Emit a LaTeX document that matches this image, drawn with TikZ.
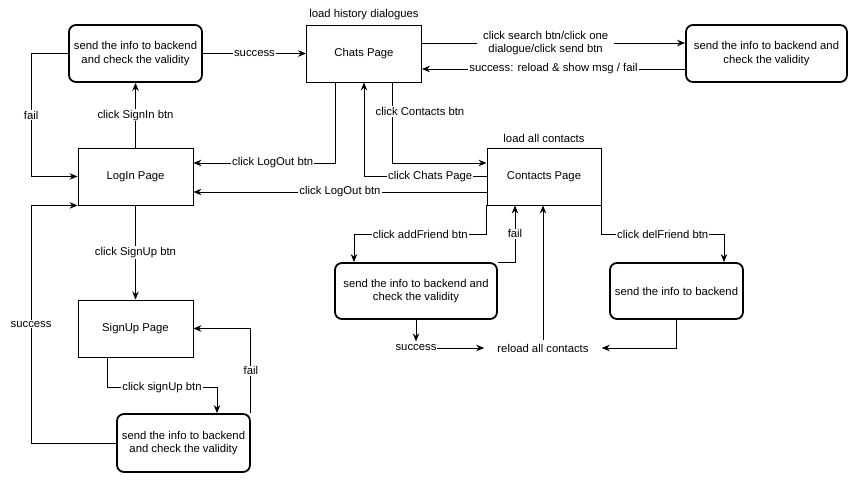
\documentclass[tikz,border=0pt]{standalone}
\usepackage{fontspec}
\setmainfont{Liberation Sans}
\usetikzlibrary{arrows.meta,positioning}

\begin{document}
\begin{tikzpicture}[x=1pt, y=-1pt, >={Stealth[length=8pt,width=6.5pt]}, font=\fontsize{11.3}{13.4}\selectfont,
  page/.style={draw, line width=0.9pt, minimum width=115pt, minimum height=57pt, inner sep=0pt},
  check/.style={draw, line width=1.8pt, rounded corners=7pt, minimum height=57pt, align=center, inner sep=0pt},
  flow/.style={->, line width=0.9pt},
  lbl/.style={fill=white, inner sep=1pt}]
\useasboundingbox (0,0) rectangle (863,481);
\node[check, minimum width=133pt] (signin) at (135.5,53.5) {send the info to backend\\and check the validity};
\node[page] (chats) at (364,53.5) {Chats Page};
\node[check, minimum width=161pt] (msgcheck) at (766.5,53.5) {send the info to backend and\\check the validity};
\node[page] (login) at (135.5,176.5) {LogIn Page};
\node[page, minimum width=114pt] (contacts) at (544,176.5) {Contacts Page};
\node[page] (signup) at (135.5,328.5) {SignUp Page};
\node[check, minimum width=133pt, minimum height=58pt] (signupcheck) at (183.5,443) {send the info to backend\\and check the validity};
\node[check, minimum width=162pt, minimum height=56pt] (addcheck) at (416,291) {send the info to backend and\\check the validity};
\node[check, minimum width=133pt, minimum height=56pt] (delsend) at (676.5,291) {send the info to backend};
\node[inner xsep=0.5pt] (succ) at (416,348) {success};
\node[inner xsep=13pt] (reload) at (543,348) {reload all contacts};
\node[above=1pt of chats] (histnote) {load history dialogues};
\node[above=1pt of contacts] (contnote) {load all contacts};
\draw[flow] (login.north) -- node[lbl]{click SignIn btn} (signin.south);
\draw[flow] (signin.west) -- ++(-37,0) |- node[lbl,pos=0.25]{fail} (login.west);
\draw[flow] (signin.east) -- node[lbl]{success} (chats.west);
\draw[flow] ([yshift=10.5pt]chats.east) -- node[lbl,pos=0.47,align=center,inner xsep=6pt]{click search btn/click one\\dialogue/click send btn} ([yshift=10.5pt]msgcheck.west);
\draw[flow] ([yshift=-15.5pt]msgcheck.west) -- node[lbl]{success: reload \& show msg / fail} ([yshift=-15.5pt]chats.east);
\draw[flow] ([xshift=-29pt]chats.south) |- node[lbl,pos=0.72]{click LogOut btn} ([yshift=13.5pt]login.east);
\draw[flow] (contacts.west) -| node[lbl,pos=0.23]{click Chats Page} (chats.south);
\draw[flow] ([xshift=28pt]chats.south) |- node[lbl,pos=0.18,xshift=28pt]{click Contacts btn} ([yshift=13.5pt]contacts.west);
\draw[flow] ([yshift=-15.5pt]contacts.west) -- node[lbl]{click LogOut btn} ([yshift=-15.5pt]login.east);
\draw[flow] (contacts.south west) -- ++(0,29) -| node[lbl,pos=0.25]{click addFriend btn} ([xshift=-62pt]addcheck.north);
\draw[flow] (addcheck.north east) -| node[lbl,pos=0.75]{fail} ([xshift=-29pt]contacts.south);
\draw[flow] (addcheck.south) -- (succ);
\draw[flow] (succ) -- (reload);
\draw[flow] (reload) -- (reload |- contacts.south);
\draw[flow] (contacts.south east) -- ++(0,29) -| node[lbl,pos=0.25]{click delFriend btn} ([xshift=47.5pt]delsend.north);
\draw[flow] (delsend.south) |- (reload.east);
\draw[flow] (login.south) -- node[lbl]{click SignUp btn} (signup.north);
\draw[flow] ([xshift=-28.5pt]signup.south) -- ++(0,30) -| node[lbl,pos=0.25]{click signUp btn} ([xshift=33.5pt]signupcheck.north);
\draw[flow] (signupcheck.north east) |- node[lbl,pos=0.25]{fail} (signup.east);
\draw[flow] (signupcheck.west) -- ++(-85,0) |- node[lbl,pos=0.25]{success} (login.south west);
\end{tikzpicture}
\end{document}
